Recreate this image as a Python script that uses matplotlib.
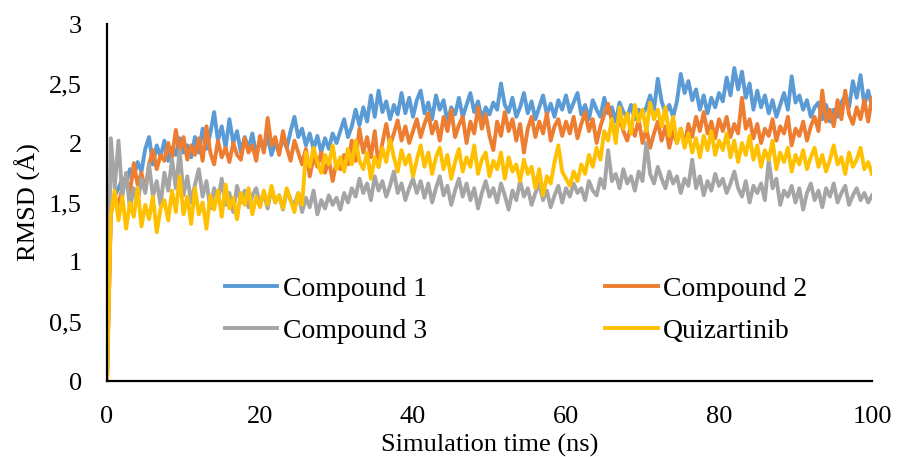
import numpy as np
import matplotlib
matplotlib.use('Agg')
import matplotlib.pyplot as plt
from matplotlib.ticker import FuncFormatter

# RMSD values, one value every 0.5 ns (t = 0.5 ... 100), first point t = 0 is 0
compound1 = [0,
    1.45, 1.55, 1.62, 1.70, 1.66, 1.78, 1.72, 1.84, 1.76, 1.95, 2.05, 1.82, 1.98, 1.88, 2.02, 1.85, 1.96, 1.90, 2.04, 1.92,
    1.98, 1.88, 2.05, 1.92, 2.12, 1.95, 2.08, 2.26, 2.02, 2.14, 1.96, 2.20, 2.00, 2.10, 1.92, 2.05, 1.95, 2.08, 1.90, 2.02,
    1.94, 2.06, 1.90, 2.00, 1.92, 2.04, 1.96, 2.10, 2.22, 2.05, 2.12, 1.98, 2.08, 1.95, 2.06, 1.92, 2.04, 1.95, 2.08, 2.00,
    2.10, 2.20, 2.05, 2.14, 2.28, 2.15, 2.30, 2.18, 2.40, 2.22, 2.44, 2.26, 2.35, 2.20, 2.32, 2.24, 2.42, 2.25, 2.38, 2.22,
    2.36, 2.44, 2.25, 2.34, 2.20, 2.40, 2.28, 2.36, 2.18, 2.30, 2.24, 2.38, 2.22, 2.32, 2.42, 2.26, 2.35, 2.20, 2.30, 2.24,
    2.34, 2.28, 2.50, 2.32, 2.26, 2.38, 2.22, 2.30, 2.42, 2.25, 2.35, 2.20, 2.30, 2.40, 2.24, 2.33, 2.22, 2.36, 2.28, 2.40,
    2.26, 2.34, 2.42, 2.24, 2.32, 2.20, 2.36, 2.28, 2.22, 2.38, 2.25, 2.30, 2.18, 2.34, 2.26, 2.22, 2.32, 2.20, 2.28, 2.24,
    2.30, 2.40, 2.28, 2.54, 2.35, 2.25, 2.32, 2.22, 2.35, 2.58, 2.42, 2.52, 2.36, 2.45, 2.28, 2.40, 2.25, 2.38, 2.30, 2.42,
    2.35, 2.55, 2.40, 2.63, 2.45, 2.60, 2.38, 2.50, 2.28, 2.44, 2.30, 2.40, 2.25, 2.36, 2.22, 2.32, 2.42, 2.28, 2.56, 2.34,
    2.40, 2.28, 2.36, 2.22, 2.30, 2.34, 2.20, 2.32, 2.18, 2.28, 2.22, 2.34, 2.40, 2.30, 2.52, 2.38, 2.57, 2.32, 2.44, 2.30]

compound2 = [0,
    1.40, 1.55, 1.48, 1.62, 1.70, 1.58, 1.83, 1.65, 1.75, 1.60, 1.82, 1.94, 1.78, 1.90, 1.85, 2.00, 1.88, 2.11, 1.92, 2.05,
    1.86, 1.98, 1.90, 2.04, 1.85, 2.14, 1.92, 1.82, 2.02, 1.88, 1.96, 1.84, 2.00, 1.90, 1.86, 2.04, 1.92, 1.98, 1.85, 2.06,
    1.92, 2.21, 1.98, 2.05, 1.90, 2.10, 1.96, 1.85, 2.02, 1.92, 1.82, 1.95, 1.72, 1.88, 1.80, 1.92, 1.75, 1.86, 1.68, 1.84,
    1.78, 1.90, 1.82, 2.02, 1.85, 2.12, 1.92, 2.05, 1.88, 2.10, 1.80, 2.00, 2.16, 1.98, 2.08, 2.19, 2.02, 2.14, 2.00, 2.10,
    2.20, 2.05, 2.16, 2.25, 2.08, 2.18, 2.02, 2.22, 2.10, 2.28, 2.05, 2.15, 2.22, 2.00, 2.18, 2.08, 2.30, 2.12, 2.24, 2.06,
    1.94, 2.18, 2.06, 2.26, 2.10, 2.20, 2.02, 2.16, 1.92, 2.12, 2.22, 2.05, 2.18, 2.08, 2.25, 2.02, 2.14, 2.20, 2.06, 2.18,
    2.08, 2.22, 2.04, 2.16, 2.26, 2.10, 2.20, 2.00, 2.14, 2.24, 2.33, 2.18, 2.08, 2.22, 2.10, 2.02, 2.15, 2.06, 2.20, 2.00,
    2.12, 1.96, 2.08, 2.18, 2.02, 2.14, 1.96, 2.10, 2.00, 2.12, 1.98, 2.16, 2.05, 2.22, 2.10, 2.26, 2.08, 2.18, 2.04, 2.20,
    2.10, 2.22, 2.05, 2.16, 2.08, 2.38, 2.12, 2.20, 2.04, 2.16, 2.00, 2.12, 2.06, 2.20, 2.02, 2.14, 2.08, 2.22, 1.98, 2.12,
    2.06, 2.18, 2.02, 2.14, 2.22, 2.10, 2.44, 2.18, 2.28, 2.14, 2.36, 2.20, 2.44, 2.24, 2.16, 2.30, 2.20, 2.36, 2.18, 2.38]

compound3 = [0,
    2.04, 1.62, 2.02, 1.55, 1.75, 1.45, 1.62, 1.50, 1.70, 1.58, 1.82, 1.55, 1.68, 1.48, 1.75, 1.60, 1.86, 1.62, 1.94, 1.56,
    1.72, 1.50, 1.65, 1.78, 1.55, 1.68, 1.45, 1.62, 1.52, 1.70, 1.48, 1.58, 1.42, 1.64, 1.50, 1.60, 1.46, 1.56, 1.62, 1.48,
    1.58, 1.45, 1.62, 1.50, 1.56, 1.44, 1.60, 1.52, 1.48, 1.58, 1.42, 1.54, 1.46, 1.60, 1.40, 1.52, 1.45, 1.56, 1.48, 1.54,
    1.44, 1.58, 1.50, 1.62, 1.55, 1.70, 1.58, 1.66, 1.52, 1.72, 1.60, 1.68, 1.55, 1.64, 1.76, 1.58, 1.66, 1.52, 1.62, 1.70,
    1.58, 1.68, 1.54, 1.66, 1.50, 1.62, 1.72, 1.56, 1.64, 1.48, 1.60, 1.70, 1.55, 1.66, 1.52, 1.62, 1.45, 1.58, 1.68, 1.55,
    1.62, 1.50, 1.66, 1.56, 1.44, 1.60, 1.52, 1.68, 1.55, 1.62, 1.48, 1.58, 1.66, 1.52, 1.60, 1.46, 1.56, 1.64, 1.50, 1.62,
    1.55, 1.66, 1.58, 1.62, 1.52, 1.68, 1.60, 1.56, 1.70, 1.62, 1.94, 1.68, 1.74, 1.62, 1.78, 1.66, 1.72, 1.60, 1.76, 1.68,
    2.00, 1.74, 1.66, 1.80, 1.70, 1.62, 1.76, 1.66, 1.72, 1.58, 1.70, 1.64, 1.86, 1.62, 1.72, 1.56, 1.68, 1.60, 1.74, 1.64,
    1.70, 1.58, 1.66, 1.76, 1.62, 1.55, 1.68, 1.50, 1.64, 1.58, 1.66, 1.52, 1.86, 1.62, 1.70, 1.48, 1.60, 1.55, 1.64, 1.50,
    1.62, 1.44, 1.58, 1.66, 1.52, 1.60, 1.46, 1.62, 1.55, 1.66, 1.50, 1.58, 1.64, 1.48, 1.56, 1.62, 1.52, 1.58, 1.50, 1.56]

quizartinib = [0,
    1.40, 1.60, 1.35, 1.55, 1.28, 1.50, 1.38, 1.62, 1.30, 1.48, 1.36, 1.55, 1.25, 1.45, 1.52, 1.35, 1.60, 1.42, 1.72, 1.40,
    1.55, 1.32, 1.62, 1.40, 1.50, 1.28, 1.56, 1.44, 1.60, 1.38, 1.65, 1.45, 1.54, 1.36, 1.58, 1.48, 1.62, 1.40, 1.55, 1.46,
    1.60, 1.48, 1.64, 1.50, 1.56, 1.45, 1.62, 1.52, 1.42, 1.58, 1.48, 1.92, 1.80, 1.96, 1.84, 1.75, 1.90, 1.82, 1.98, 1.78,
    1.88, 1.76, 1.95, 1.82, 2.02, 1.85, 1.78, 1.92, 1.70, 1.88, 1.80, 1.96, 1.84, 2.03, 1.88, 1.76, 1.94, 1.82, 1.90, 1.72,
    1.86, 1.98, 1.80, 1.92, 1.74, 1.88, 1.96, 1.78, 1.90, 1.70, 1.84, 1.95, 1.76, 1.88, 1.80, 1.98, 1.74, 1.86, 1.92, 1.72,
    1.85, 1.78, 1.92, 1.70, 1.88, 1.76, 1.82, 1.68, 1.86, 1.74, 1.80, 1.62, 1.78, 1.56, 1.72, 1.66, 1.84, 1.98, 1.76, 1.70,
    1.64, 1.76, 1.68, 1.82, 1.74, 1.90, 1.80, 1.96, 1.86, 2.10, 2.02, 2.20, 2.00, 2.30, 2.12, 2.25, 2.08, 2.32, 2.18, 2.28,
    2.10, 2.34, 2.20, 2.28, 2.14, 2.30, 2.06, 2.22, 2.00, 2.12, 1.96, 2.08, 1.92, 2.04, 1.88, 2.06, 1.94, 2.10, 1.90, 2.02,
    1.94, 2.08, 1.88, 2.02, 1.84, 2.00, 1.90, 2.06, 1.86, 1.98, 1.80, 1.94, 1.86, 2.02, 1.78, 1.92, 1.84, 1.96, 1.76, 1.90,
    1.82, 1.94, 1.78, 1.88, 1.96, 1.80, 1.90, 1.76, 1.86, 1.98, 1.82, 1.88, 1.74, 1.92, 1.80, 1.86, 1.96, 1.78, 1.84, 1.74]

time_ns = np.arange(len(compound1)) * 0.5

series_names = ['Compound 1', 'Compound 2', 'Compound 3', 'Quizartinib']
series_colors = ['#5B9BD5', '#ED7D31', '#A5A5A5', '#FFC000']

plt.rcParams['font.family'] = ['Liberation Serif', 'DejaVu Serif']

fig = plt.figure(figsize=(8.97, 4.57), dpi=100)
ax = fig.add_axes([107 / 897, 76 / 457, 765 / 897, 357 / 457])

lines = []
for vals, name, col in zip([compound1, compound2, compound3, quizartinib], series_names, series_colors):
    ln, = ax.plot(time_ns, vals, color=col, lw=2.8, label=name, solid_joinstyle='round')
    lines.append(ln)

ax.set_xlim(0, 100)
ax.set_ylim(0, 3)
ax.set_xticks([0, 20, 40, 60, 80, 100])
ax.set_yticks([0, 0.5, 1, 1.5, 2, 2.5, 3])
ax.yaxis.set_major_formatter(FuncFormatter(lambda v, p: ('%g' % v).replace('.', ',')))
ax.tick_params(length=0, labelsize=19, pad=18)

for s in ['top', 'right']:
    ax.spines[s].set_visible(False)
for s in ['left', 'bottom']:
    ax.spines[s].set_color('black')
    ax.spines[s].set_linewidth(1.6)

ax.set_xlabel('Simulation time (ns)', fontsize=19, labelpad=4)
ax.set_ylabel('RMSD (Å)', fontsize=19, labelpad=6)

# legend is filled row by row in the reference: (1, 2) then (3, Quizartinib)
order = [0, 2, 1, 3]
fig.legend([lines[i] for i in order], [series_names[i] for i in order],
           loc='center', bbox_to_anchor=(516 / 897, 1 - 310 / 457), ncol=2, frameon=False,
           fontsize=20, handlelength=1.9, handletextpad=0.2, columnspacing=6.4, labelspacing=0.6,
           borderpad=0)

fig.savefig('out.png', dpi=100)
